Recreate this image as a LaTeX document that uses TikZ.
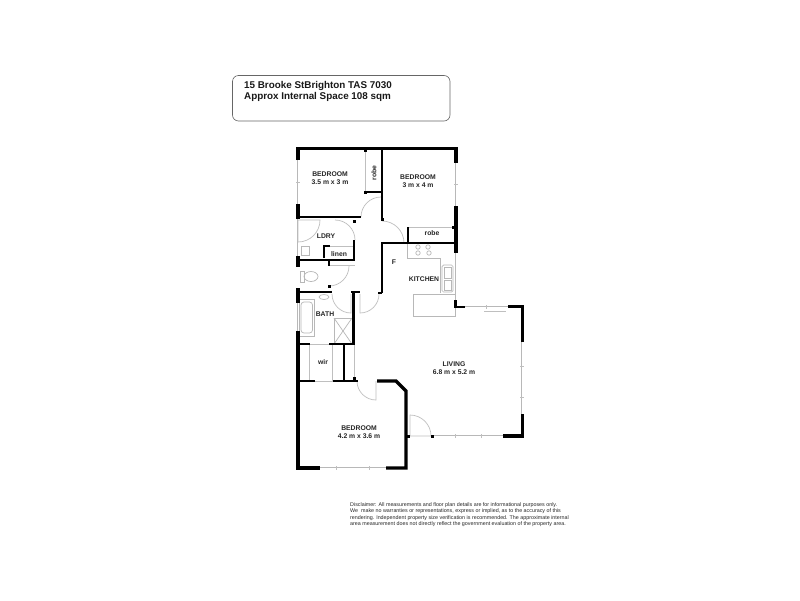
\documentclass[tikz,border=0pt]{standalone}
\usepackage{fontspec}
\setmainfont{Liberation Sans}
\usepackage{tikz}

\tikzset{
    outerwall/.style={draw=black, line width=3.2pt},
    innerwall/.style={draw=black, line width=2.2pt},
    pane/.style={draw=black!28, line width=0.6pt, double=white, double distance=0.9pt},
    fitting/.style={draw=black!28, line width=0.7pt},
    swing/.style={draw=black!25, line width=0.7pt},
    tag/.style={font=\bfseries\fontsize{6.8}{8.2}\selectfont, text=black!85, align=center, inner sep=0pt},
}

\begin{document}
\begin{tikzpicture}[x=1pt,y=-1pt]
    \useasboundingbox[fill=white] (0,0) rectangle (800,600);

    % address box
    \draw[black!60, line width=0.6pt, rounded corners=6pt] (232.5,75.5) rectangle (450,121);
    \node[anchor=west, inner sep=0pt, align=left, font=\bfseries\fontsize{9.85}{11}\selectfont, text=black!90] (address) at (244,91)
        {15 Brooke StBrighton TAS 7030\\Approx Internal Space 108 sqm};

    % windows
    \foreach \xa/\ya/\xb/\yb in {298/160/298/204, 298/219/298/258, 298/303/298/331, 456/163/456/206, 456/253/456/301,
                                 465/307/508/307, 522/342/522/414, 433/436/503/436, 320/468/386/468}
        \draw[pane] (\xa,\ya) -- (\xb,\yb);
    \foreach \x/\y/\dx/\dy in {298/182/2/0, 456/184/2/0, 522/366/2/0, 522/397/2/0, 486/307/0/2,
                               455/436/0/2, 481/436/0/2, 336/468/0/2, 369/468/0/2}
        \draw[swing] (\x-\dx,\y-\dy) -- (\x+\dx,\y+\dy);
    \draw[swing] (484,311) -- (506,311);

    % fittings
    \draw[fitting] (407,243) -- (407,258) -- (440,258) -- (440,293);
    \draw[fitting] (413,294) rectangle (455,316);
    \draw[fitting, rounded corners=1.5pt] (442,265) rectangle (453,292);
    \draw[fitting] (444,267) rectangle (451,278);
    \draw[fitting] (444,280) rectangle (451,290);
    \foreach \x/\y in {418/247, 428/247, 418/253, 429/253}
        \draw[fitting] (\x,\y) circle (2.2pt);
    \draw[fitting] (299.5,299) rectangle (314,336);
    \draw[fitting, rounded corners=3pt] (301,302) rectangle (312.5,333);
    \draw[fitting] (334,318) rectangle (352,344);
    \draw[fitting] (334,318) -- (352,344) (352,318) -- (334,344);
    \draw[fitting] (324,297) ellipse (5pt and 2.5pt);
    \draw[fitting] (300,271) rectangle (304,282);
    \draw[fitting] (311,276.5) ellipse (7pt and 5pt);
    \draw[fitting] (301,246) rectangle (309,255);

    % door leaves
    \draw[swing] (361,217) arc[start angle=180, end angle=270, radius=20];
    \draw[swing] (382,221) arc[start angle=-90, end angle=0, radius=22];
    \draw[swing] (320,220) arc[start angle=0, end angle=90, radius=22] -- (298,220) -- cycle;
    \draw[swing] (335,220) arc[start angle=-90, end angle=0, radius=20];
    \draw[swing] (349,266) arc[start angle=0, end angle=90, radius=20];
    \draw[swing] (329,265.5) -- (355,265.5);
    \draw[swing] (332,294) arc[start angle=180, end angle=90, radius=19] -- (351,294);
    \draw[swing] (379,294) arc[start angle=0, end angle=90, radius=19] -- (360,294);
    \draw[swing] (357,381) arc[start angle=180, end angle=90, radius=19] -- (376,381);
    \draw[swing] (410,415) arc[start angle=-90, end angle=0, radius=21] -- (410,436) -- cycle;
    \draw[swing] (309,344) -- (309,381) (332,344) -- (332,381) (354,345) -- (354,380);
    \draw[swing] (310,344) -- (329,344) (315,381) -- (333,381);
    \draw[swing] (365,150) -- (365,192) (408,227) -- (455,227) (324,246) -- (353,246);

    % walls
    \draw[outerwall] (298,160) -- (298,148.5) -- (456,148.5) -- (456,163);
    \draw[outerwall] (298,204) -- (298,219);
    \draw[outerwall] (456,206) -- (456,253);
    \draw[outerwall] (298,288) -- (298,303);
    \draw[outerwall] (298,331) -- (298,468) -- (320,468);
    \draw[outerwall] (386,468) -- (406,468) -- (406,391) -- (396,381) -- (377,381);
    \draw[outerwall] (503,436) -- (522.5,436) -- (522.5,414);
    \draw[outerwall] (522.5,342) -- (522.5,306.5) -- (508,306.5);
    \draw[outerwall] (298,256) -- (298,267);
    \draw[innerwall] (298,217) -- (361,217);
    \draw[innerwall] (382,148) -- (382,220);
    \draw[innerwall] (365,192) -- (382,192);
    \draw[innerwall] (408,243) -- (408,227);
    \draw[innerwall] (382,293) -- (382,243) -- (456,243);
    \draw[innerwall] (378,293) -- (382,293);
    \draw[innerwall] (465,307) -- (455.5,307) -- (455.5,300);
    \draw[innerwall] (324,258) -- (324,246) -- (330,246);
    \draw[innerwall] (354,240) -- (354,260) -- (298,260);
    \draw[innerwall] (329,260) -- (329,266);
    \draw[innerwall] (298,292) -- (332,292);
    \draw[innerwall] (351,292) -- (360,292);
    \draw[innerwall] (353.5,292) -- (353.5,345);
    \draw[innerwall] (298,344) -- (310,344);
    \draw[innerwall] (329,344) -- (354,344);
    \draw[innerwall] (344,344) -- (344,381);
    \draw[innerwall] (298,381) -- (315,381);
    \draw[innerwall] (333,381) -- (358,381);
    \foreach \x/\y in {365/150, 365/192, 354/221, 329/286, 354/378, 432/436, 408/436, 453/227, 382/219}
        \fill[black] (\x-1.5,\y-1.5) rectangle (\x+1.5,\y+1.5);

    % room labels
    \node[tag] (bedA) at (330,178) {BEDROOM\\3.5 m x 3 m};
    \node[tag] (bedB) at (418,181) {BEDROOM\\3 m x 4 m};
    \node[tag, rotate=90] (robeA) at (374,173) {robe};
    \node[tag] (robeB) at (432,233) {robe};
    \node[tag] (ldry) at (326,236) {LDRY};
    \node[tag] (linen) at (339,254) {linen};
    \node[tag] (fridge) at (394,262) {F};
    \node[tag] (kitchen) at (424,279) {KITCHEN};
    \node[tag] (bath) at (325,314) {BATH};
    \node[tag] (wir) at (323,362) {wir};
    \node[tag] (living) at (454,368) {LIVING\\6.8 m x 5.2 m};
    \node[tag] (bedC) at (359,432) {BEDROOM\\4.2 m x 3.6 m};

    % disclaimer
    \node[anchor=north west, inner sep=0pt, align=left, font=\fontsize{5.35}{6.4}\selectfont, text=black!85] (disclaimer) at (350,502.5)
        {Disclaimer: All measurements and floor plan details are for informational purposes only.\\
         We~~make no warranties or representations, express or implied, as to the accuracy of this\\
         rendering. Independent property size verification is recommended. The approximate internal\\
         area measurement does not directly reflect the government evaluation of the property area.};
\end{tikzpicture}
\end{document}
